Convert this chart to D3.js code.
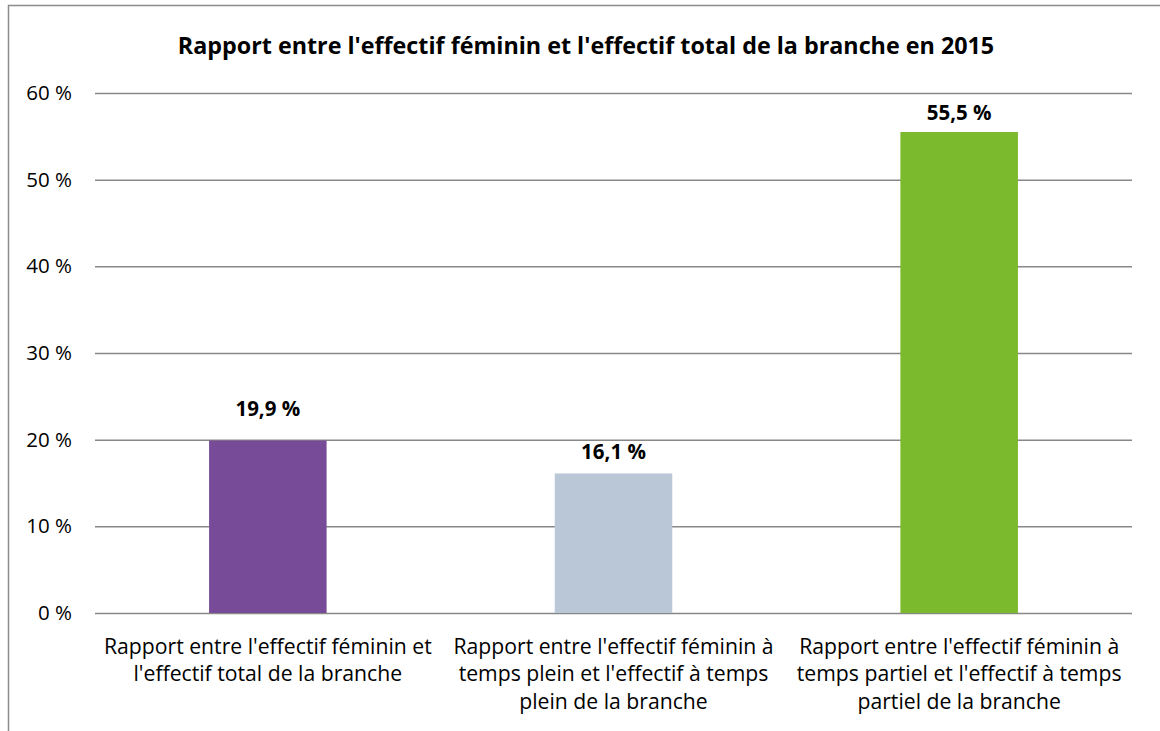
<!DOCTYPE html>
<html>
<head>
<meta charset="utf-8">
<script src="https://cdn.jsdelivr.net/npm/d3@7"></script>
<style>
  body { margin: 0; background: #fff; }
  text { font-family: "Open Sans", sans-serif; fill: #000; }
</style>
</head>
<body>
<div id="chart"></div>
<script>
// data
var categories = [
  ["Rapport entre l'effectif féminin et", "l'effectif total de la branche"],
  ["Rapport entre l'effectif féminin à", "temps plein et l'effectif à temps", "plein de la branche"],
  ["Rapport entre l'effectif féminin à", "temps partiel et l'effectif à temps", "partiel de la branche"]
];
var values = [19.9, 16.1, 55.5];
var valueLabels = ["19,9 %", "16,1 %", "55,5 %"];
var barColors = ["#784B98", "#BAC7D7", "#7BB92D"];
var yTicks = [0, 10, 20, 30, 40, 50, 60];
var title = "Rapport entre l'effectif féminin et l'effectif total de la branche en 2015";

var W = 1160, H = 731;
var plot = { left: 95, right: 1132, top: 93, bottom: 613 };

var svg = d3.select("#chart").append("svg")
    .attr("width", W)
    .attr("height", H);

// chart frame (right/bottom edges fall outside the picture)
svg.append("rect")
    .attr("x", 8.5).attr("y", 5.5)
    .attr("width", 1160).attr("height", 740)
    .attr("fill", "#fff")
    .attr("stroke", "#8c8c8c")
    .attr("stroke-width", 1.5);

var x = d3.scaleBand()
    .domain(d3.range(values.length))
    .range([plot.left, plot.right])
    .paddingInner(0.66)
    .paddingOuter(0.33);

var y = d3.scaleLinear()
    .domain([0, 60])
    .range([plot.bottom, plot.top]);

// title
svg.append("text")
    .attr("x", 586).attr("y", 54)
    .attr("text-anchor", "middle")
    .style("font-size", "23.3px")
    .style("font-weight", "bold")
    .text(title);

// grid + y axis labels
var yAxis = svg.append("g")
    .attr("transform", "translate(" + plot.left + ",0)")
    .call(d3.axisLeft(y)
        .tickValues(yTicks)
        .tickSize(-(plot.right - plot.left))
        .tickPadding(23)
        .tickFormat(function (d) { return d + " %"; }));
yAxis.select(".domain").remove();
yAxis.selectAll(".tick line")
    .attr("stroke", "#888")
    .attr("stroke-width", 1.5);
yAxis.selectAll(".tick text")
    .attr("fill", "#000")
    .style("font-family", "'Open Sans', sans-serif")
    .style("font-size", "20.5px");

// bars
svg.append("g")
    .selectAll("rect")
    .data(values)
    .enter().append("rect")
    .attr("x", function (d, i) { return x(i); })
    .attr("y", function (d) { return y(d); })
    .attr("width", x.bandwidth())
    .attr("height", function (d) { return y(0) - y(d); })
    .attr("fill", function (d, i) { return barColors[i]; });

// value labels (Excel placed the first one a little higher)
var labelLift = [25, 14, 12];
svg.append("g")
    .selectAll("text")
    .data(values)
    .enter().append("text")
    .attr("x", function (d, i) { return x(i) + x.bandwidth() / 2; })
    .attr("y", function (d, i) { return y(d) - labelLift[i]; })
    .attr("text-anchor", "middle")
    .style("font-size", "20.5px")
    .style("font-weight", "bold")
    .text(function (d, i) { return valueLabels[i]; });

// category labels
var cat = svg.append("g")
    .selectAll("text")
    .data(categories)
    .enter().append("text")
    .attr("text-anchor", "middle")
    .attr("transform", function (d, i) {
        return "translate(" + (x(i) + x.bandwidth() / 2) + "," + 654 + ")";
    })
    .style("font-size", "21.2px");
cat.selectAll("tspan")
    .data(function (d) { return d; })
    .enter().append("tspan")
    .attr("x", 0)
    .attr("y", function (d, j) { return j * 27.3; })
    .text(function (d) { return d; });
</script>
</body>
</html>
